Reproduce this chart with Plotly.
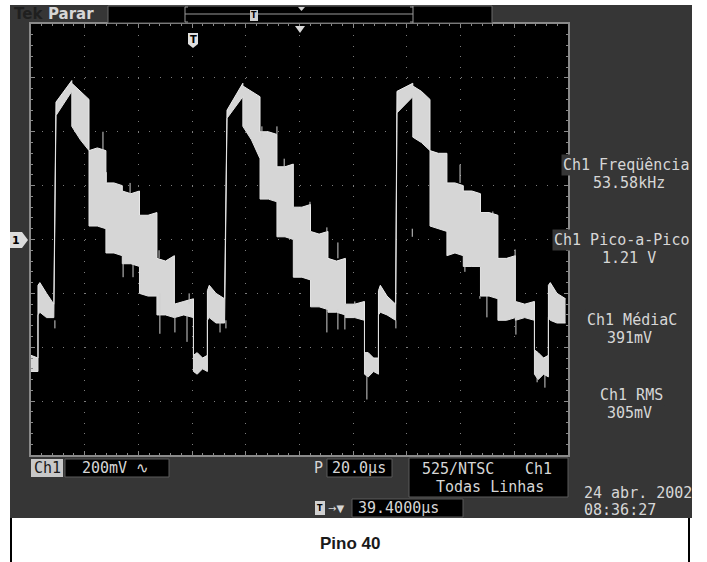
import plotly.graph_objects as go

# Ch1: 200 mV/div over 8 div, time base 20 us/div over 10 div, centre line = 0 V
T_SPAN = [0, 200]
V_SPAN = [-0.8, 0.8]

# envelope of one cycle, times relative to each rising edge (us)
CYCLE_T = [0.4, 6.3, 6.3, 9.5, 12.7, 12.7, 15.8, 19.0, 19.0, 22.0, 25.1, 25.1, 28.3, 31.5,
           31.5, 34.7, 38.0, 38.0, 41.2, 44.5, 44.5, 48.0, 51.6, 51.6, 53.0, 55.0, 56.8,
           56.8, 57.5, 60.0, 63.2]
EDGES_US = [8.9, 72.6, 135.9]

UPPER_1 = [0.51, 0.59, 0.58, 0.55, 0.52, 0.33, 0.34, 0.33, 0.21, 0.21, 0.20, 0.18, 0.17, 0.18,
           0.09, 0.09, 0.10, -0.07, -0.08, -0.06, -0.24, -0.23, -0.22, -0.43, -0.42, -0.44,
           -0.43, -0.19, -0.17, -0.20, -0.22]
LOWER_1 = [0.46, 0.55, 0.42, 0.37, 0.33, 0.05, 0.05, 0.04, -0.05, -0.05, -0.06, -0.09, -0.09,
           -0.10, -0.20, -0.21, -0.21, -0.28, -0.28, -0.29, -0.29, -0.28, -0.29, -0.49, -0.50,
           -0.48, -0.49, -0.30, -0.29, -0.31, -0.31]
UPPER_2 = [0.48, 0.58, 0.57, 0.55, 0.53, 0.40, 0.40, 0.39, 0.27, 0.27, 0.28, 0.12, 0.12, 0.13,
           0.03, 0.02, 0.03, -0.07, -0.08, -0.07, -0.24, -0.24, -0.23, -0.42, -0.42, -0.44,
           -0.44, -0.19, -0.17, -0.21, -0.24]
LOWER_2 = [0.45, 0.53, 0.42, 0.37, 0.30, 0.15, 0.15, 0.14, 0.01, 0.01, 0.00, -0.14, -0.14,
           -0.15, -0.25, -0.25, -0.26, -0.27, -0.27, -0.28, -0.29, -0.29, -0.30, -0.50, -0.51,
           -0.49, -0.50, -0.28, -0.27, -0.28, -0.30]
UPPER_3 = [0.55, 0.58, 0.57, 0.55, 0.52, 0.33, 0.32, 0.32, 0.21, 0.21, 0.20, 0.18, 0.18, 0.17,
           0.10, 0.10, 0.09, -0.07, -0.07, -0.06, -0.23, -0.24, -0.23, -0.41, -0.42, -0.44,
           -0.43, -0.17, -0.16, -0.20, -0.22]
LOWER_3 = [0.47, 0.53, 0.38, 0.36, 0.33, 0.05, 0.04, 0.03, -0.06, -0.05, -0.06, -0.10, -0.10,
           -0.10, -0.21, -0.21, -0.22, -0.30, -0.30, -0.29, -0.30, -0.29, -0.30, -0.50, -0.52,
           -0.50, -0.51, -0.29, -0.30, -0.31, -0.31]

# end of the cycle before the first full one (absolute us)
TAIL_T = [0.0, 2.6, 2.6, 3.3, 5.8, 8.5]
TAIL_UP = [-0.43, -0.44, -0.17, -0.16, -0.20, -0.24]
TAIL_LO = [-0.49, -0.49, -0.28, -0.27, -0.29, -0.29]

# noise spikes sticking out of the band (us, V from, V to)
SPIKE_T = [8.9, 26.8, 28.1, 34.3, 36.9, 38.0, 47.7, 48.0, 53.6, 58.1, 58.9, 70.4, 72.6,
           86.0, 91.6, 94.3, 103.9, 110.2, 110.2, 114.3, 114.3, 116.9, 120.6, 125.1, 135.9,
           142.0, 159.8, 161.6, 167.2, 169.8, 172.0, 180.3, 180.6, 188.5, 191.4]
SPIKE_FROM = [-0.30, 0.33, 0.21, -0.09, 0.17, -0.09, -0.07, -0.20, -0.28, -0.28, -0.24,
              -0.30, -0.30, 0.38, 0.39, 0.26, 0.12, 0.03, -0.25, -0.07, -0.26, -0.27, -0.24,
              -0.50, -0.30, 0.04, 0.21, -0.10, -0.21, -0.21, 0.09, -0.07, -0.30, -0.50, -0.50]
SPIKE_TO = [-0.33, 0.40, 0.25, -0.14, 0.21, -0.14, -0.04, -0.35, -0.345, -0.38, -0.20,
            -0.345, -0.33, 0.42, 0.42, 0.30, 0.14, 0.045, -0.345, -0.011, -0.334, -0.334,
            -0.23, -0.594, -0.33, 0.01, 0.278, -0.12, -0.22, -0.289, 0.104, -0.037, -0.353,
            -0.53, -0.55]

MEAS_NAMES = ["Ch1 Freqüência", "Ch1 Pico-a-Pico", "Ch1 MédiaC", "Ch1 RMS"]
MEAS_VALUES = ["53.58kHz", "1.21 V", "391mV", "305mV"]

W, H = 707, 562
ML, MR, MT, MB = 31, 139, 24, 107
PW, PH = W - ML - MR, H - MT - MB
FONT = "DejaVu Sans Mono"
TXT = "#d6d6d6"
SCREEN = "#363636"


def px(x):
    return (x - ML) / PW


def py(y):
    return (H - MB - y) / PH


def rect(x0, y0, x1, y1, fill, line=None, layer="above"):
    return dict(type="rect", xref="paper", yref="paper", x0=px(x0), x1=px(x1),
                y0=py(y1), y1=py(y0), fillcolor=fill, layer=layer,
                line=dict(color=line or fill, width=1 if line else 0))


def seg(x0, y0, x1, y1, color, width=1):
    return dict(type="line", xref="paper", yref="paper", x0=px(x0), x1=px(x1),
                y0=py(y0), y1=py(y1), line=dict(color=color, width=width))


def poly(pts, fill):
    d = "M " + " L ".join(f"{px(a):.5f},{py(b):.5f}" for a, b in pts) + " Z"
    return dict(type="path", xref="paper", yref="paper", path=d, fillcolor=fill,
                line=dict(width=0))


def text(x, y, s, size=15, color=TXT, anchor="center", family=FONT, **kw):
    return dict(x=px(x), y=py(y), xref="paper", yref="paper", text=s, showarrow=False,
                xanchor=anchor, yanchor="middle", font=dict(family=family, size=size, color=color), **kw)


t_env, up_env, lo_env = list(TAIL_T), list(TAIL_UP), list(TAIL_LO)
for edge, up, lo in zip(EDGES_US, [UPPER_1, UPPER_2, UPPER_3], [LOWER_1, LOWER_2, LOWER_3]):
    t_env += [edge + d for d in CYCLE_T]
    up_env += up
    lo_env += lo

spx, spy = [], []
for t, a, b in zip(SPIKE_T, SPIKE_FROM, SPIKE_TO):
    spx += [t, t, None]
    spy += [a, b, None]

fig = go.Figure()
fig.add_scatter(x=t_env, y=up_env, mode="lines", line=dict(color="#ececec", width=1),
                hoverinfo="skip", showlegend=False)
fig.add_scatter(x=t_env, y=lo_env, mode="lines", line=dict(color="#e2e2e2", width=1),
                fill="tonexty", fillcolor="#d8d8d8",
                fillpattern=dict(shape="|", bgcolor="#dcdcdc", fgcolor="#c4c4c4", size=2, solidity=0.5),
                hoverinfo="skip", showlegend=False)
fig.add_scatter(x=spx, y=spy, mode="lines", line=dict(color="#d0d0d0", width=1),
                hoverinfo="skip", showlegend=False)

gray = "#8a8a8a"
axis_common = dict(showticklabels=False, zeroline=False, fixedrange=True)
fig.update_layout(
    width=W, height=H, margin=dict(l=ML, r=MR, t=MT, b=MB),
    paper_bgcolor="white", plot_bgcolor="black",
    xaxis=dict(range=T_SPAN, dtick=20, tick0=0, showgrid=True, gridcolor="#7c7c7c",
               griddash=f"1px,{PH / 40 - 1:.3f}px", showline=True, linecolor=gray, linewidth=2,
               mirror="ticks", ticks="inside", ticklen=4, tickcolor=gray,
               minor=dict(dtick=4, tick0=0, ticks="inside", ticklen=2, tickcolor=gray), **axis_common),
    yaxis=dict(range=V_SPAN, dtick=0.2, tick0=0, showgrid=True, gridcolor="#7c7c7c",
               griddash=f"1px,{PW / 50 - 1:.3f}px", showline=True, linecolor=gray, linewidth=2,
               mirror="ticks", ticks="inside", ticklen=4, tickcolor=gray,
               minor=dict(dtick=0.04, tick0=0, ticks="inside", ticklen=2, tickcolor=gray), **axis_common),
    xaxis2=dict(range=T_SPAN, overlaying="x", anchor="free", position=0.5, showgrid=False,
                showline=True, linecolor="#7c7c7c", linewidth=1, ticks="outside", ticklen=3,
                dtick=4, tick0=0, tickcolor="#9a9a9a", **axis_common),
    xaxis3=dict(range=T_SPAN, overlaying="x", anchor="free", position=0.5, showgrid=False,
                showline=False, ticks="inside", ticklen=3, dtick=4, tick0=0,
                tickcolor="#9a9a9a", **axis_common),
    yaxis2=dict(range=V_SPAN, overlaying="y", anchor="free", position=0.5, showgrid=False,
                showline=True, linecolor="#7c7c7c", linewidth=1, ticks="outside", ticklen=3,
                dtick=0.04, tick0=0, tickcolor="#9a9a9a", **axis_common),
    yaxis3=dict(range=V_SPAN, overlaying="y", anchor="free", position=0.5, showgrid=False,
                showline=False, ticks="inside", ticklen=3, dtick=0.04, tick0=0,
                tickcolor="#9a9a9a", **axis_common),
)

shapes = [
    rect(10, 5, 692, 518, SCREEN, layer="below"),
    dict(type="rect", xref="paper", yref="paper", x0=0, x1=1, y0=0, y1=1,
         fillcolor="black", line=dict(width=0), layer="below"),
    seg(11, 518, 11, 562, "black", 2),
    seg(689, 518, 689, 562, "black", 2),
    # top status bar
    rect(108, 6, 492, 23, "black", line="#6a6a6a"),
    seg(185, 14, 413, 14, "#9a9a9a"),
    seg(185, 7, 185, 22, "#9a9a9a"), seg(185, 7, 188, 7, "#9a9a9a"), seg(185, 22, 188, 22, "#9a9a9a"),
    seg(413, 6, 413, 23, "#9a9a9a"), seg(410, 7, 413, 7, "#9a9a9a"), seg(410, 22, 413, 22, "#9a9a9a"),
    rect(250, 10, 258, 21, "#cfcfcf"),
    poly([(298, 7), (305, 7), (301.5, 11)], "#d0d0d0"),
    # markers on the graticule
    poly([(295, 26), (305, 26), (300, 33)], "#d8d8d8"),
    poly([(188, 33), (198, 33), (198, 44), (193, 48), (188, 44)], "#e0e0e0"),
    poly([(10, 232), (22, 232), (28, 240), (22, 248), (10, 248)], "#dcdcdc"),
    # bottom readout boxes
    rect(31, 459, 63, 477, "#c8c8c8"),
    rect(65, 459, 169, 477, "black", line="#5a5a5a"),
    rect(327, 459, 392, 477, "black", line="#5a5a5a"),
    rect(409, 458, 568, 497, "black", line="#5a5a5a"),
    rect(352, 499, 463, 517, "black", line="#5a5a5a"),
    rect(315, 501, 325, 515, "#d0d0d0"),
]
fig.update_layout(shapes=shapes)

ann = [
    text(12, 14, "<b>Tek</b>", 15, "#1f1f1f", "left", family="DejaVu Sans"),
    text(46, 14, "<b>Parar</b>", 15, TXT, "left", family="DejaVu Sans"),
    text(193, 39, "<b>T</b>", 10, "black", family="DejaVu Sans"),
    text(254, 15.5, "<b>T</b>", 8, "black", family="DejaVu Sans"),
    text(16, 240, "<b>1</b>", 11, "black", family="DejaVu Sans"),
    text(47, 468, "Ch1", 15, "#1a1a1a"),
    text(80, 468, "200mV ∿", 15, TXT, "left"),
    text(325, 468, "P", 15, TXT, "right"),
    text(330, 468, "20.0µs", 15, TXT, "left"),
    text(420, 469, "525/NTSC", 15, TXT, "left"),
    text(523, 469, "Ch1", 15, TXT, "left"),
    text(490, 487, "Todas Linhas", 15, TXT),
    text(582, 493, "24 abr. 2002", 15, TXT, "left"),
    text(582, 510, "08:36:27", 15, TXT, "left"),
    text(320, 508, "<b>T</b>", 8, "black", family="DejaVu Sans"),
    text(336, 508, "→▼", 10, TXT, family="DejaVu Sans"),
    text(356, 508, "39.4000µs", 15, TXT, "left"),
    text(350, 543, "<b>Pino 40</b>", 17, "#1a1a1a",
         family="Liberation Sans Narrow, Liberation Sans"),
]
name_x = [626, 621, 632, 631]
name_y = [165, 240, 320, 395]
for nm, val, cx, cy in zip(MEAS_NAMES, MEAS_VALUES, name_x, name_y):
    ann.append(text(cx, cy, nm, 15, TXT, bgcolor=SCREEN))
    ann.append(text(629, cy + 18, val, 15, TXT))
fig.update_layout(annotations=ann)

fig.write_html("out.html", config={"displayModeBar": False},
               post_script="document.body.style.margin='0px';")
